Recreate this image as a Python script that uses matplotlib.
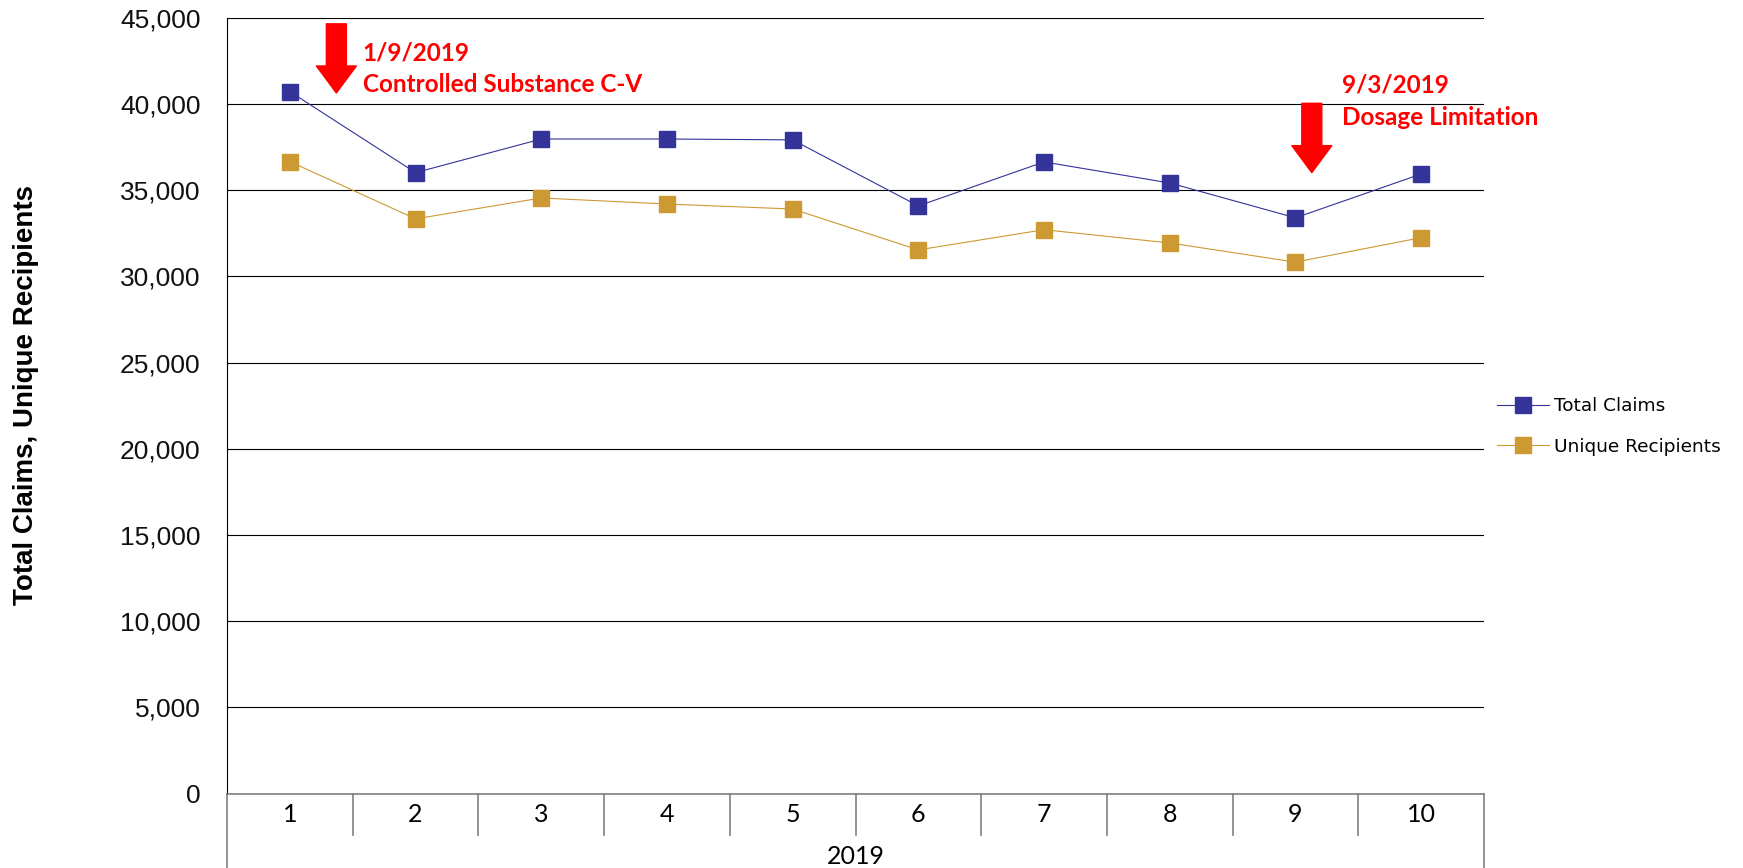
import matplotlib
matplotlib.use('Agg')
from matplotlib import pyplot as plt
from matplotlib.ticker import FuncFormatter, MultipleLocator
import numpy as np

MONTHS = ['1', '2', '3', '4', '5', '6', '7', '8', '9', '10']
YEAR = '2019'
TOTAL_CLAIMS = [40720, 36020, 37970, 37970, 37920, 34090, 36640, 35420, 33400, 35940]
UNIQUE_RECIPIENTS = [36660, 33340, 34550, 34200, 33910, 31540, 32710, 31940, 30830, 32250]

# policy events: arrow (month pos, top, tip) and label (month pos, first baseline, lines)
EVENT_ARROWS = [(0.37, 44650, 40640), (8.13, 40040, 36020)]
EVENT_LABELS = [
    (0.58, 42550, ['1/9/2019', 'Controlled Substance C-V']),
    (8.37, 40640, ['9/3/2019', 'Dosage Limitation']),
]

TC_COLOR = '#333399'
UR_COLOR = '#CC9933'
W, H = 1743, 868


def main():
    fig = plt.figure(figsize=(W / 100, H / 100), dpi=100)
    ax = fig.add_axes([227 / W, 1 - 793.7 / H, (1484 - 227) / W, (793.7 - 17.8) / H])

    x = np.arange(len(MONTHS))
    ax.plot(x, TOTAL_CLAIMS, color=TC_COLOR, lw=0.8, marker='s', ms=11.5,
            mec=TC_COLOR, mfc=TC_COLOR, label='Total Claims', zorder=3)
    ax.plot(x, UNIQUE_RECIPIENTS, color=UR_COLOR, lw=0.8, marker='s', ms=11.5,
            mec=UR_COLOR, mfc=UR_COLOR, label='Unique Recipients', zorder=3)

    ax.set_xlim(-0.5, len(MONTHS) - 0.5)
    ax.set_ylim(0, 45000)
    ax.yaxis.set_major_locator(MultipleLocator(5000))
    ax.yaxis.set_major_formatter(FuncFormatter(lambda v, p: '{:,.0f}'.format(v)))
    ax.grid(axis='y', color='black', lw=0.8)
    ax.set_axisbelow(True)
    for s in ['top', 'right']:
        ax.spines[s].set_visible(False)
    ax.spines['left'].set_color('black')
    ax.spines['left'].set_linewidth(0.8)
    ax.spines['bottom'].set_color('#808080')
    ax.spines['bottom'].set_linewidth(1.2)
    ax.tick_params(axis='y', length=0, pad=19, labelsize=19, labelcolor='#111111')
    for lab in ax.get_yticklabels():
        lab.set_fontfamily('Liberation Sans')

    # category axis: month labels, separators and the year row
    ax.set_xticks(x)
    ax.set_xticklabels(MONTHS, fontfamily='Lato', fontsize=18)
    ax.tick_params(axis='x', length=0, pad=7)
    trans = ax.get_xaxis_transform()
    y_sep = (793.7 - 835) / (793.7 - 17.8)
    y_bot = (793.7 - 868) / (793.7 - 17.8)
    for b in np.arange(-0.5, len(MONTHS), 1.0):
        end = y_bot if b in (-0.5, len(MONTHS) - 0.5) else y_sep
        ax.plot([b, b], [0, end], color='#808080', lw=1.2, transform=trans, clip_on=False)
    ax.text(0.5, (793.7 - 857) / (793.7 - 17.8), YEAR, transform=ax.transAxes,
            ha='center', va='center', fontfamily='Lato', fontsize=18)

    fig.text(26 / W, 1 - 395 / H, 'Total Claims, Unique Recipients', rotation=90,
             ha='center', va='center', fontfamily='Liberation Sans',
             fontweight='bold', fontsize=20)

    # policy change arrows and their labels
    for xm, top, tip in EVENT_ARROWS:
        ax.annotate('', xy=(xm, tip), xytext=(xm, top),
                    arrowprops=dict(arrowstyle='simple,head_width=2,head_length=1.35,tail_width=1',
                                    mutation_scale=14.4, color='#FF0000', shrinkA=0, shrinkB=0),
                    zorder=4)
    for xm, base, lines in EVENT_LABELS:
        for i, line in enumerate(lines):
            ax.annotate(line, xy=(xm, base), xytext=(0, -31.7 * i), textcoords='offset pixels',
                        ha='left', va='baseline', color='#FF0000', fontfamily='Lato',
                        fontweight='bold', fontsize=17.5)

    fig.legend(loc='center left', bbox_to_anchor=(1497 / W, 1 - 426.5 / H), frameon=False,
               prop={'family': 'DejaVu Sans', 'size': 13.3}, handlelength=2.8,
               handletextpad=0.3, labelspacing=1.2, borderpad=0, borderaxespad=0)

    fig.savefig('out.png', dpi=100)


if __name__ == '__main__':
    main()
